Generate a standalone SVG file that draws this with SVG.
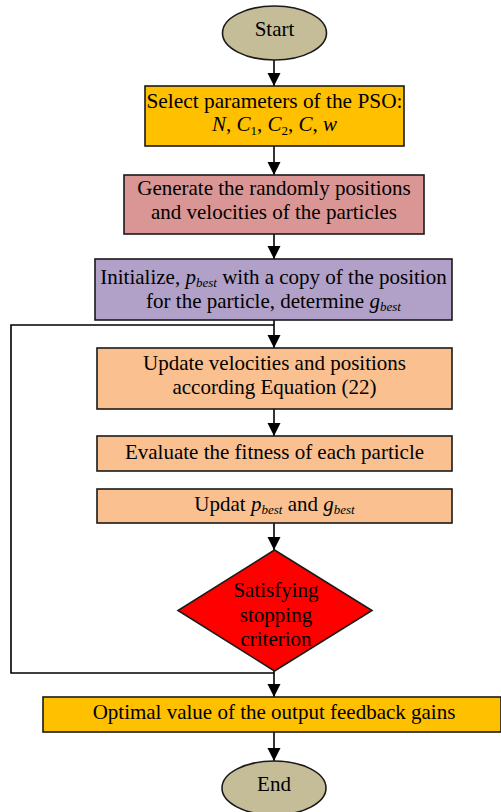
<svg xmlns="http://www.w3.org/2000/svg" width="501" height="812" viewBox="0 0 501 812">
<style>
.b{stroke:#1a1a1a;stroke-width:1.6}
.t{font-family:"Liberation Serif","Times New Roman",serif;font-size:21px;fill:#000;text-anchor:middle}
.i{font-style:italic}
.s{font-size:13px}
.c{fill:none;stroke:#000;stroke-width:1.6}
</style>
<defs>
<marker id="ah" markerWidth="13" markerHeight="16" refX="13" refY="8" orient="auto" markerUnits="userSpaceOnUse">
<path d="M0,1.5 L13,8 L0,14.5 z" fill="#000"/>
</marker>
</defs>
<rect width="501" height="812" fill="#fff"/>
<g id="connectors">
<line class="c" x1="274" y1="60" x2="274" y2="86" marker-end="url(#ah)"/>
<line class="c" x1="274" y1="146" x2="274" y2="175" marker-end="url(#ah)"/>
<line class="c" x1="274" y1="234" x2="274" y2="259" marker-end="url(#ah)"/>
<line class="c" x1="274" y1="320" x2="274" y2="348" marker-end="url(#ah)"/>
<line class="c" x1="274" y1="409" x2="274" y2="436" marker-end="url(#ah)"/>
<line class="c" x1="274" y1="523" x2="274" y2="550" marker-end="url(#ah)"/>
<line class="c" x1="274" y1="671" x2="274" y2="697" marker-end="url(#ah)"/>
<line class="c" x1="274" y1="732" x2="274" y2="761" marker-end="url(#ah)"/>
<polyline class="c" points="274,673 11,673 11,325 274,325"/>
</g>
<g id="start">
<ellipse class="b" cx="274.5" cy="33" rx="52" ry="27" fill="#C4BD97"/>
<text class="t" x="274.5" y="36">Start</text>
</g>
<g id="select">
<rect class="b" x="145" y="86" width="259" height="60" fill="#FFC000"/>
<text class="t" x="274.5" y="108" textLength="256" lengthAdjust="spacingAndGlyphs">Select parameters of the PSO:</text>
<text class="t" x="274.5" y="131"><tspan class="i">N</tspan>, <tspan class="i">C</tspan><tspan class="s" dy="4">1</tspan><tspan dy="-4">, </tspan><tspan class="i">C</tspan><tspan class="s" dy="4">2</tspan><tspan dy="-4">, </tspan><tspan class="i">C</tspan>, <tspan class="i">w</tspan></text>
</g>
<g id="generate">
<rect class="b" x="124" y="175" width="300" height="59" fill="#DA9694"/>
<text class="t" x="274" y="195">Generate the randomly positions</text>
<text class="t" x="274" y="219">and velocities of the particles</text>
</g>
<g id="initialize">
<rect class="b" x="95" y="259" width="357" height="61" fill="#B1A0C7"/>
<text class="t" x="273.5" y="284">Initialize, <tspan class="i">p</tspan><tspan class="i s" dy="3">best</tspan><tspan dy="-3"> with a copy of the position</tspan></text>
<text class="t" x="273.5" y="308">for the particle, determine <tspan class="i">g</tspan><tspan class="i s" dy="3">best</tspan></text>
</g>
<g id="update">
<rect class="b" x="97" y="348" width="355" height="61" fill="#FAC090"/>
<text class="t" x="274.5" y="370">Update velocities and positions</text>
<text class="t" x="274.5" y="394">according Equation (22)</text>
</g>
<g id="evaluate">
<rect class="b" x="97" y="436" width="355" height="35" fill="#FAC090"/>
<text class="t" x="274.5" y="459">Evaluate the fitness of each particle</text>
</g>
<g id="updat">
<rect class="b" x="97" y="489" width="355" height="34" fill="#FAC090"/>
<text class="t" x="274.5" y="511">Updat <tspan class="i">p</tspan><tspan class="i s" dy="3">best</tspan><tspan dy="-3"> and </tspan><tspan class="i">g</tspan><tspan class="i s" dy="3">best</tspan></text>
</g>
<g id="decision">
<polygon class="b" points="274.5,550 372,610.5 274.5,671 178,610.5" fill="#FF0000"/>
<text class="t" x="276" y="597">Satisfying</text>
<text class="t" x="276" y="622">stopping</text>
<text class="t" x="276" y="646">criterion</text>
</g>
<g id="optimal">
<rect class="b" x="43" y="697" width="458" height="35" fill="#FFC000"/>
<text class="t" x="274" y="719">Optimal value of the output feedback gains</text>
</g>
<g id="end">
<ellipse class="b" cx="274" cy="788" rx="52" ry="27" fill="#C4BD97"/>
<text class="t" x="274" y="791">End</text>
</g>
</svg>
